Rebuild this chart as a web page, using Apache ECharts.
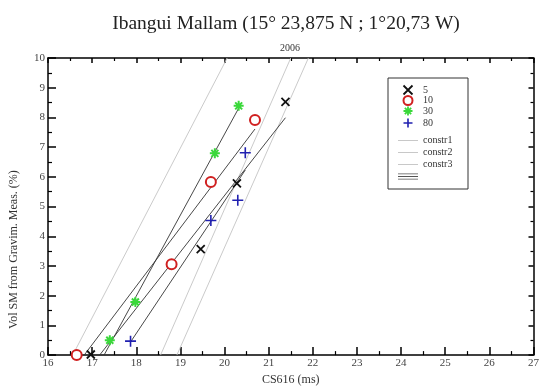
<!DOCTYPE html>
<html>
<head>
<meta charset="utf-8">
<script src="https://cdn.jsdelivr.net/npm/echarts@6/dist/echarts.min.js"></script>
<style>
html,body{margin:0;padding:0;background:#fff;}
#chart{width:542px;height:391px;}
</style>
</head>
<body>
<div id="chart"></div>
<script>
// ---- data ----
var titleText = 'Ibangui Mallam (15° 23,875 N ; 1°20,73 W)';
var subTitleText = '2006';
var xName = 'CS616 (ms)';
var yName = 'Vol SM from Gravim. Meas. (%)';

// measured points: [CS616 period (ms), vol. soil moisture (%)]
var depth5  = [[16.97, 0.02], [19.46, 3.57], [20.28, 5.78], [21.38, 8.52]];
var depth10 = [[16.65, 0.00], [18.80, 3.06], [19.69, 5.83], [20.69, 7.91]];
var depth30 = [[17.40, 0.50], [17.98, 1.79], [19.78, 6.79], [20.32, 8.39]];
var depth80 = [[17.87, 0.47], [19.69, 4.53], [20.30, 5.21], [20.47, 6.81]];

// fitted lines (end points)
var fit5  = [[17.17, 0.00], [21.38, 7.99]];
var fit10 = [[16.82, 0.00], [20.69, 7.61]];
var fit30 = [[17.27, 0.00], [20.32, 8.31]];
var fit80 = [[17.87, 0.44], [20.47, 6.23]];

// constructor calibration lines
var constr1 = [[16.56, 0], [20.06, 10]];
var constr2 = [[18.55, 0], [21.50, 10]];
var constr3 = [[18.92, 0], [21.90, 10]];

var seriesNames = ['5', '10', '30', '80'];
var constrNames = ['constr1', 'constr2', 'constr3'];

// ---- chart ----
var serif = '"Liberation Serif", "DejaVu Serif", serif';
var chart = echarts.init(document.getElementById('chart'), null, {renderer: 'canvas'});

var crossPath = 'path://M0,0L10,10M10,0L0,10';
var plusPath = 'path://M5,0L5,10M0,5L10,5';
var starPath = 'path://M5,0L5,10M0,5L10,5M1.5,1.5L8.5,8.5M8.5,1.5L1.5,8.5';
// legend icons: bounding box kept at 20x9 by a hair-thin edge
var thinLinePath = 'path://M0,0L0.01,0L0.01,9L0,9Z M0,4.1H20V4.9H0Z';
var triplePath = 'path://M0,0L0.01,0L0.01,9L0,9Z M0,2H20V2.8H0Z M0,4.6H20V5.4H0Z M0,7.2H20V8H0Z';

var colors = {'5': '#111', '10': '#d02020', '30': '#3ad83a', '80': '#2020b0'};

function scatter(name, data, symbol, size, bw) {
  var color = colors[name];
  return {
    name: name, type: 'scatter', data: data, symbol: symbol, symbolSize: size,
    itemStyle: {color: symbol === 'emptyCircle' ? color : 'none', borderColor: color, borderWidth: bw, opacity: 1},
    z: 5
  };
}
function fitLine(data) {
  return {
    name: 'fit', type: 'line', data: data, symbol: 'none', clip: true,
    lineStyle: {color: '#333', width: 0.9}, itemStyle: {color: '#333'}, z: 3
  };
}
function constrLine(name, data) {
  return {
    name: name, type: 'line', data: data, symbol: 'none', clip: true,
    lineStyle: {color: '#c4c4c4', width: 0.9}, itemStyle: {color: '#c4c4c4'}, z: 2
  };
}
function legendSym(name, icon, bw) {
  return {name: name, icon: icon,
          itemStyle: {color: icon === 'emptyCircle' ? colors[name] : 'none', borderColor: colors[name], borderWidth: bw}};
}

var axisCommon = {
  type: 'value',
  axisLine: {show: true, onZero: false, lineStyle: {color: '#000', width: 1.5}},
  axisTick: {show: true, inside: true, length: 8, lineStyle: {color: '#000', width: 1.5}},
  minorTick: {show: true, splitNumber: 2, length: 4, lineStyle: {color: '#000', width: 1.2}},
  splitLine: {show: false}
};

var legendText = {fontFamily: serif, fontSize: 10, color: '#333', lineHeight: 9};

var option = {
  backgroundColor: '#fff',
  animation: false,
  title: [
    {text: titleText, left: 281, top: 9, textAlign: 'center',
     textStyle: {fontFamily: serif, fontSize: 19.5, fontWeight: 'normal', color: '#222'}},
    {text: subTitleText, left: 285, top: 38, textAlign: 'center',
     textStyle: {fontFamily: serif, fontSize: 10, fontWeight: 'normal', color: '#333'}}
  ],
  grid: {left: 46, right: 5, top: 58, bottom: 31, containLabel: false},
  xAxis: [
    Object.assign({}, axisCommon, {
      position: 'bottom', min: 16, max: 27, interval: 1,
      name: xName, nameLocation: 'middle', nameGap: 16,
      nameTextStyle: {fontFamily: serif, fontSize: 12, color: '#333'},
      axisLabel: {fontFamily: serif, fontSize: 11, color: '#444', margin: 3}
    }),
    Object.assign({}, axisCommon, {
      position: 'top', min: 16, max: 27, interval: 1,
      axisLabel: {show: false},
      axisTick: {show: true, inside: true, length: 5, lineStyle: {color: '#000', width: 1.5}},
      minorTick: {show: true, splitNumber: 2, length: 3, lineStyle: {color: '#000', width: 1.2}}
    })
  ],
  yAxis: [
    Object.assign({}, axisCommon, {
      position: 'left', min: 0, max: 10, interval: 1,
      name: yName, nameLocation: 'middle', nameGap: 28,
      nameTextStyle: {fontFamily: serif, fontSize: 12, color: '#333', padding: [0, 86, 0, 0]},
      axisLabel: {fontFamily: serif, fontSize: 11, color: '#444', margin: 3}
    }),
    Object.assign({}, axisCommon, {
      position: 'right', min: 0, max: 10, interval: 1,
      axisLabel: {show: false},
      axisTick: {show: true, inside: true, length: 5, lineStyle: {color: '#000', width: 1.5}},
      minorTick: {show: true, splitNumber: 2, length: 3, lineStyle: {color: '#000', width: 1.2}}
    })
  ],
  legend: [
    {
      orient: 'vertical', left: 388, top: 78,
      padding: [5, 35, 59, 13], itemWidth: 20, itemHeight: 9, itemGap: -2,
      borderColor: '#333', borderWidth: 1, backgroundColor: '#fff',
      textStyle: legendText,
      data: [
        legendSym(seriesNames[0], crossPath, 1.8),
        legendSym(seriesNames[1], 'emptyCircle', 1.8),
        legendSym(seriesNames[2], starPath, 1.8),
        legendSym(seriesNames[3], plusPath, 1.6)
      ]
    },
    {
      orient: 'vertical', left: 398, top: 135.5,
      padding: 0, itemWidth: 20, itemHeight: 9, itemGap: 2,
      textStyle: legendText,
      formatter: function (n) { return n === 'fit' ? '' : n; },
      data: [
        {name: constrNames[0], icon: thinLinePath, itemStyle: {color: '#c8c8c8', borderWidth: 0}},
        {name: constrNames[1], icon: thinLinePath, itemStyle: {color: '#c8c8c8', borderWidth: 0}},
        {name: constrNames[2], icon: thinLinePath, itemStyle: {color: '#c8c8c8', borderWidth: 0}},
        {name: 'fit', icon: triplePath, itemStyle: {color: '#555', borderWidth: 0}}
      ]
    }
  ],
  series: [
    constrLine(constrNames[0], constr1),
    constrLine(constrNames[1], constr2),
    constrLine(constrNames[2], constr3),
    fitLine(fit5), fitLine(fit10), fitLine(fit30), fitLine(fit80),
    scatter(seriesNames[0], depth5, crossPath, 8, 1.8),
    scatter(seriesNames[1], depth10, 'emptyCircle', 10, 2),
    scatter(seriesNames[2], depth30, starPath, 10, 2),
    scatter(seriesNames[3], depth80, plusPath, 11, 1.6)
  ]
};
chart.setOption(option);
</script>
</body>
</html>
